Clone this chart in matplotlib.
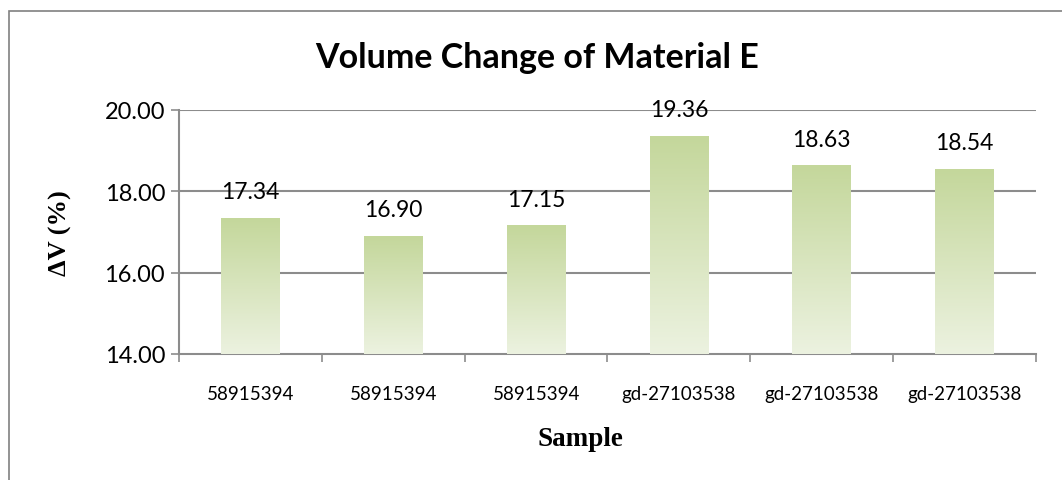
import matplotlib.pyplot as plt
import matplotlib.patches as mpatches
import numpy as np

# Data
samples = ['58915394', '58915394', '58915394', 'gd-27103538', 'gd-27103538', 'gd-27103538']
dv = [17.34, 16.90, 17.15, 19.36, 18.63, 18.54]
yticks = [14.0, 16.0, 18.0, 20.0]

TOP_C = np.array([196, 215, 155]) / 255
BOT_C = np.array([236, 242, 224]) / 255
GRID_C = '#8c8c8c'

fig = plt.figure(figsize=(10.62, 4.81), dpi=100)
ax = fig.add_axes([179 / 1062, 1 - 355 / 481, (1036 - 179) / 1062, (355 - 111) / 481])

# outer chart border
fig.patches.append(mpatches.Rectangle((9 / 1062, -0.1), 1.2, 1 - 12 / 481 + 0.1,
                                      transform=fig.transFigure, fill=False,
                                      edgecolor='#808080', lw=1.2))

x = np.arange(len(samples))
bw = 0.41
ymin = yticks[0]

# gradient bars
grad = np.linspace(0, 1, 256)[:, None]
cols = TOP_C[None, None, :] * (1 - grad[..., None]) + BOT_C[None, None, :] * grad[..., None]
for xi, v in zip(x, dv):
    ax.imshow(cols, extent=(xi - bw / 2, xi + bw / 2, ymin, v), aspect='auto',
              origin='upper', zorder=3, interpolation='bilinear')
    ax.annotate(f'{v:.2f}', (xi, v), xytext=(0, 19), textcoords='offset points',
                ha='center', va='center', fontsize=16.5, family='Lato', zorder=4)

ax.set_xlim(-0.5, len(samples) - 0.5)
ax.set_ylim(yticks[0], yticks[-1])
ax.set_yticks(yticks)
ax.set_yticklabels([f'{t:.2f}' for t in yticks], family='Lato', fontsize=17)
ax.set_xticks(x)
ax.set_xticklabels(samples, family='Lato', fontsize=13.5)
ax.tick_params(axis='x', length=0, pad=22)
ax.tick_params(axis='y', length=6, width=1.2, color=GRID_C, pad=4)

# category boundary ticks
ax.set_xticks(np.arange(-0.5, len(samples)), minor=True)
ax.tick_params(axis='x', which='minor', length=6, width=1.2, color=GRID_C)

for t in yticks[1:]:
    ax.axhline(t, color=GRID_C, lw=1.5, zorder=1)

for s in ['top', 'right']:
    ax.spines[s].set_visible(False)
for s in ['left', 'bottom']:
    ax.spines[s].set_color(GRID_C)
    ax.spines[s].set_linewidth(1.5)

fig.text(537 / 1062, 1 - 58 / 481, 'Volume Change of Material E', ha='center', va='center',
         fontsize=24.5, fontweight='bold', family='Lato')
fig.text(60 / 1062, 1 - 233 / 481, 'ΔV (%)', rotation=90, ha='center', va='center',
         fontsize=19, fontweight='bold', family='Liberation Serif')
fig.text(580 / 1062, 1 - 440 / 481, 'Sample', ha='center', va='center',
         fontsize=19.5, fontweight='bold', family='Liberation Serif')

fig.savefig('out.png', dpi=100, facecolor='white')
